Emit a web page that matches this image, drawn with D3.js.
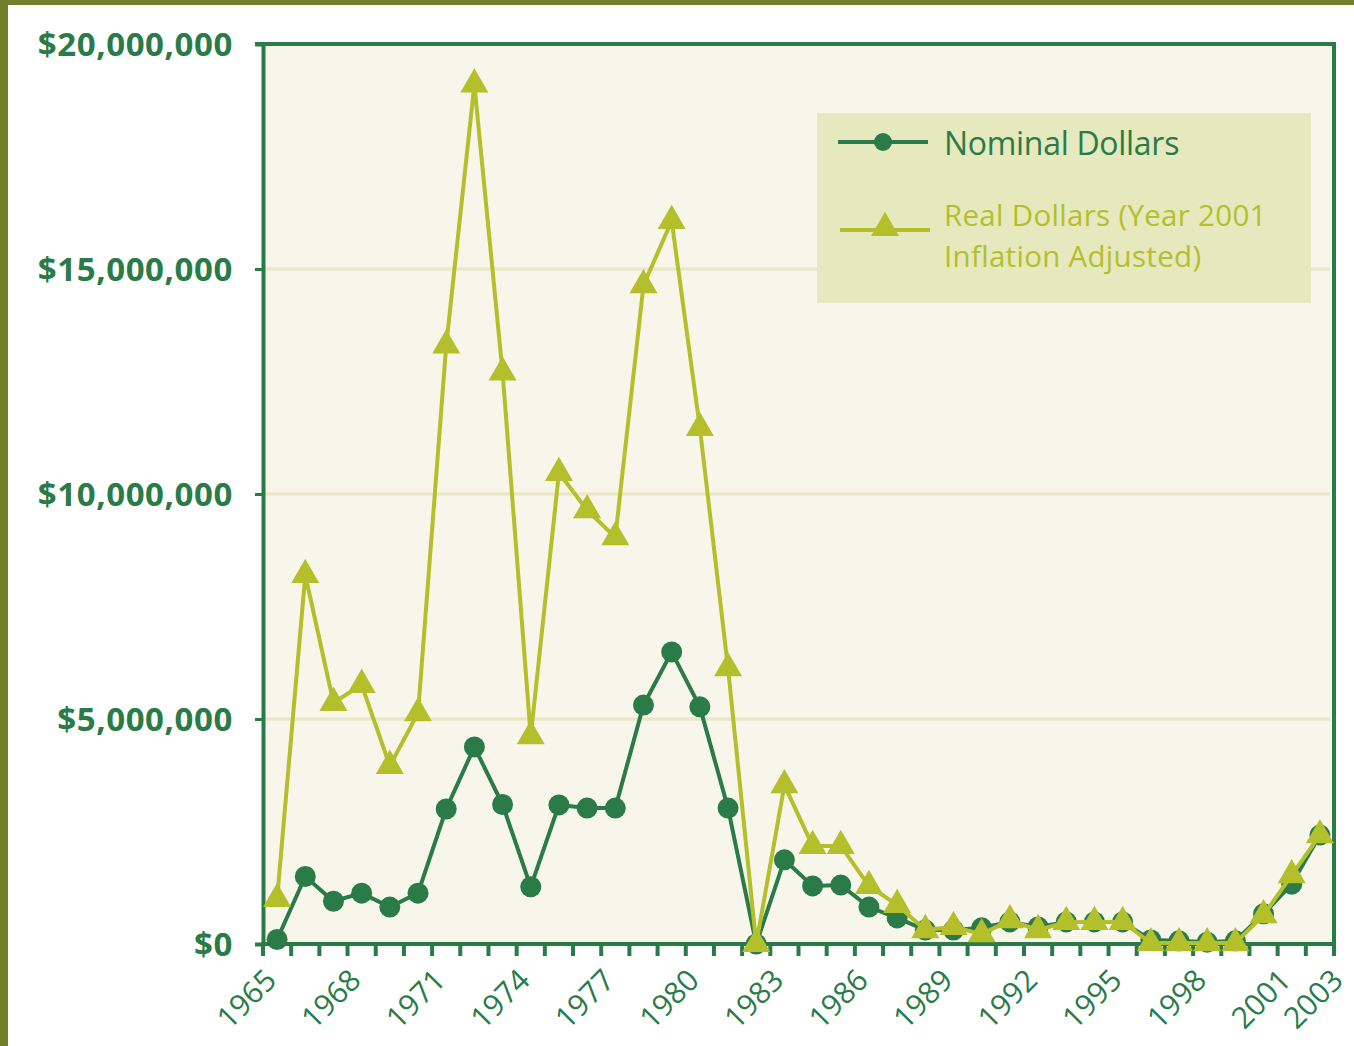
<!DOCTYPE html>
<html><head><meta charset="utf-8">
<script src="https://cdn.jsdelivr.net/npm/d3@7"></script>
<style>html,body{margin:0;padding:0;background:#fff;}svg{display:block;}</style>
</head><body>
<svg id="chart" width="1354" height="1046"></svg>
<script>
const years = d3.range(1965, 2003);
const nominal = [0.1, 1.5, 0.95, 1.13, 0.82, 1.13, 3.0, 4.38, 3.1, 1.27, 3.09, 3.02, 3.02, 5.31, 6.49, 5.27, 3.02, 0.0,
  1.87, 1.29, 1.31, 0.82, 0.58, 0.31, 0.31, 0.36, 0.49, 0.38, 0.49, 0.49, 0.49, 0.09, 0.07, 0.04, 0.07, 0.67, 1.33, 2.42];
const real = [1.0, 8.2, 5.36, 5.76, 3.96, 5.13, 13.3, 19.1, 12.7, 4.62, 10.47, 9.64, 9.04, 14.64, 16.07, 11.47, 6.13, 0.0,
  3.53, 2.18, 2.18, 1.29, 0.87, 0.31, 0.38, 0.22, 0.53, 0.31, 0.49, 0.49, 0.49, 0.02, 0.02, 0.02, 0.02, 0.64, 1.53, 2.42];
const yTicks = [0, 5, 10, 15, 20];
const xLabelYears = [1965, 1968, 1971, 1974, 1977, 1980, 1983, 1986, 1989, 1992, 1995, 1998, 2001];
const lastLabel = "2003";
const seriesNames = ["Nominal Dollars", "Real Dollars (Year 2001", "Inflation Adjusted)"];

const C = {dark:"#2a7b47", light:"#b3c02b", bg:"#f8f6eb", grid:"#ebe8c9", legend:"#e6e8bd", olive:"#6f7f2c"};
const svg = d3.select("#chart");
const L = 263, R = 1334, T = 44, B = 944;

// outer olive border
svg.append("rect").attr("x",0).attr("y",0).attr("width",1354).attr("height",5).attr("fill",C.olive);
svg.append("rect").attr("x",0).attr("y",0).attr("width",8).attr("height",1046).attr("fill",C.olive);

const x = d3.scaleBand().domain(years).range([L, R]).padding(0);
const y = d3.scaleLinear().domain([0, 20]).range([B, T]);

svg.append("rect").attr("x",L).attr("y",T).attr("width",R-L).attr("height",B-T).attr("fill",C.bg);

// gridlines
svg.append("g").selectAll("line").data(yTicks.filter(d=>d>0 && d<20)).join("line")
  .attr("x1",L).attr("x2",R-4).attr("y1",d=>y(d)).attr("y2",d=>y(d))
  .attr("stroke",C.grid).attr("stroke-width",3.5);

// legend box
svg.append("rect").attr("x",817).attr("y",113).attr("width",494).attr("height",190).attr("fill",C.legend);

// frame top and right
svg.append("line").attr("x1",255).attr("x2",R).attr("y1",T).attr("y2",T).attr("stroke",C.dark).attr("stroke-width",4);
svg.append("line").attr("x1",R).attr("x2",R).attr("y1",T-2).attr("y2",B).attr("stroke",C.dark).attr("stroke-width",4);

// y axis
const yAxis = d3.axisLeft(y).tickValues(yTicks).tickSize(8).tickPadding(22)
  .tickFormat(d => d3.format("$,")(d*1e6));
const gy = svg.append("g").attr("transform",`translate(${L},0)`).call(yAxis);
gy.select(".domain").attr("stroke",C.dark).attr("stroke-width",4);
gy.selectAll(".tick line").attr("stroke",C.dark).attr("stroke-width",3);
gy.selectAll(".tick text").attr("fill",C.dark).attr("font-family","'Open Sans', sans-serif")
  .attr("font-weight","bold").attr("font-size",33).attr("letter-spacing","0.6px").attr("dy","0.35em");

// x axis: ticks at band edges
const edges = d3.range(years.length + 1).map(i => L + i * x.bandwidth());
const gx = svg.append("g");
gx.append("line").attr("x1",L-2).attr("x2",R+2).attr("y1",B).attr("y2",B).attr("stroke",C.dark).attr("stroke-width",4);
gx.selectAll("line.t").data(edges).join("line").attr("class","t")
  .attr("x1",d=>d).attr("x2",d=>d).attr("y1",B).attr("y2",B+12).attr("stroke",C.dark).attr("stroke-width",4);
const xl = xLabelYears.map(yr => ({t: String(yr), x: x(yr) + x.bandwidth()/2}));
xl.push({t: lastLabel, x: R + 10});
gx.selectAll("text").data(xl).join("text")
  .attr("transform", d => `translate(${d.x + 1},${B + 38}) rotate(-45)`)
  .attr("text-anchor","end").attr("fill",C.dark)
  .attr("font-family","'Open Sans', sans-serif").attr("font-size",30).text(d=>d.t);

const cx = yr => x(yr) + x.bandwidth()/2;
const line = d3.line().x((d,i)=>cx(years[i])).y(d=>y(d));
const tri = d3.symbol().type(d3.symbolTriangle).size(340);

// nominal
svg.append("path").datum(nominal).attr("d",line).attr("fill","none").attr("stroke",C.dark).attr("stroke-width",4);
svg.append("g").selectAll("circle").data(nominal).join("circle")
  .attr("cx",(d,i)=>cx(years[i])).attr("cy",d=>y(d)).attr("r",10.5).attr("fill",C.dark);
// real
svg.append("path").datum(real).attr("d",line).attr("fill","none").attr("stroke",C.light).attr("stroke-width",4);
svg.append("g").selectAll("path").data(real).join("path")
  .attr("d",tri).attr("transform",(d,i)=>`translate(${cx(years[i])},${y(d)})`).attr("fill",C.light);

// legend entries
const lf = "'Open Sans', sans-serif";
svg.append("line").attr("x1",838).attr("x2",928).attr("y1",142).attr("y2",142).attr("stroke",C.dark).attr("stroke-width",4);
svg.append("circle").attr("cx",883).attr("cy",142).attr("r",9).attr("fill",C.dark);
svg.append("text").attr("x",944).attr("y",155).attr("fill",C.dark).attr("font-family",lf)
  .attr("font-size",32).attr("letter-spacing","-0.3px").text(seriesNames[0]);
svg.append("line").attr("x1",840).attr("x2",930).attr("y1",230).attr("y2",230).attr("stroke",C.light).attr("stroke-width",4);
svg.append("path").attr("d",tri).attr("transform","translate(885,228)").attr("fill",C.light);
svg.append("text").attr("x",944).attr("y",226).attr("fill",C.light).attr("font-family",lf)
  .attr("font-size",29.5).attr("letter-spacing","0.3px").text(seriesNames[1]);
svg.append("text").attr("x",944).attr("y",267).attr("fill",C.light).attr("font-family",lf)
  .attr("font-size",29.5).attr("letter-spacing","0.3px").text(seriesNames[2]);
</script>
</body></html>
